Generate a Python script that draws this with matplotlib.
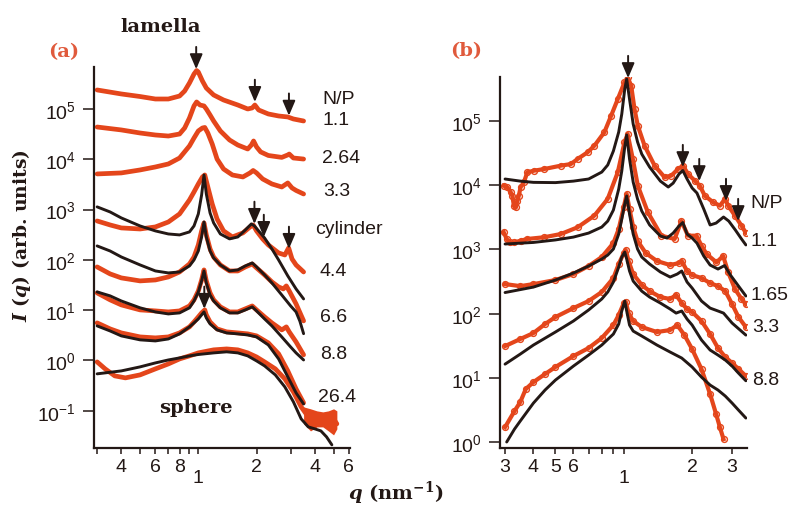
import math
import matplotlib
matplotlib.use('Agg')
import matplotlib.pyplot as plt
from matplotlib.ticker import FixedLocator, FixedFormatter, NullLocator

plt.rcParams['font.family'] = ['Liberation Sans', 'DejaVu Sans']
plt.rcParams['mathtext.fontset'] = 'custom'
plt.rcParams['mathtext.rm'] = 'DejaVu Serif:bold'
plt.rcParams['mathtext.it'] = 'DejaVu Serif:italic:bold'
plt.rcParams['mathtext.bf'] = 'DejaVu Serif:bold'

ORANGE = '#E4461B'
LBL = '#E05A3C'
K = '#231815'

# ---------------- panel (a) data ----------------
q_lam11 = [0.3, 0.4, 0.5, 0.6, 0.7, 0.8, 0.85, 0.9, 0.95, 0.98, 1.0, 1.05, 1.1, 1.2, 1.35, 1.6, 1.8, 1.9, 1.96, 2.05, 2.3, 2.6, 2.9, 3.1, 3.5]
I_lam11 = [2.39e5, 1.99e5, 1.77e5, 1.58e5, 1.58e5, 1.81e5, 2.28e5, 3.29e5, 4.96e5, 5.82e5, 5.44e5, 3.61e5, 2.61e5, 1.90e5, 1.51e5, 1.20e5, 1.0e5, 1.05e5, 1.20e5, 9.55e4, 7.96e4, 7.26e4, 6.94e4, 6.33e4, 5.77e4]

q_lam264 = [0.3, 0.4, 0.5, 0.6, 0.7, 0.8, 0.85, 0.9, 0.95, 0.98, 1.02, 1.07, 1.1, 1.15, 1.2, 1.3, 1.45, 1.6, 1.8, 1.88, 1.93, 2.0, 2.1, 2.3, 2.7, 2.9, 2.95, 3.1, 3.5]
I_lam264 = [4.38e4, 3.83e4, 3.33e4, 3.04e4, 2.90e4, 3.18e4, 4.19e4, 6.62e4, 1.15e5, 1.38e5, 1.20e5, 1.15e5, 1.0e5, 7.6e4, 5.77e4, 3.66e4, 2.42e4, 1.92e4, 1.60e4, 1.92e4, 2.31e4, 1.76e4, 1.40e4, 1.19e4, 1.09e4, 1.22e4, 1.27e4, 1.06e4, 1.01e4]

q_lam33 = [0.3, 0.4, 0.5, 0.6, 0.7, 0.8, 0.9, 0.95, 1.0, 1.05, 1.08, 1.12, 1.18, 1.25, 1.35, 1.5, 1.7, 1.85, 1.92, 2.0, 2.15, 2.4, 2.7, 2.9, 3.05, 3.2, 3.5]
I_lam33 = [5.11e3, 5.35e3, 6.13e3, 7.03e3, 8.07e3, 1.06e4, 1.84e4, 2.65e4, 3.66e4, 4.19e4, 4.29e4, 3.33e4, 2.01e4, 1.01e4, 6.41e3, 4.87e3, 4.45e3, 5.35e3, 5.98e3, 5.35e3, 4.06e3, 3.23e3, 2.81e3, 3.38e3, 2.69e3, 2.40e3, 2.04e3]

q_cyl44 = [0.3, 0.35, 0.4, 0.5, 0.6, 0.7, 0.8, 0.9, 0.95, 1.0, 1.05, 1.08, 1.12, 1.18, 1.25, 1.35, 1.5, 1.7, 1.85, 1.92, 2.0, 2.15, 2.3, 2.6, 2.8, 2.93, 3.05, 3.2, 3.5]
I_cyl44 = [593, 494, 431, 411, 451, 566, 818, 1.55e3, 2.24e3, 3.23e3, 4.45e3, 4.87e3, 2.81e3, 1.29e3, 650, 376, 285, 343, 451, 494, 376, 261, 198, 137, 125, 173, 104, 79.2, 57.4]
qf_cyl44 = [0.3, 0.35, 0.4, 0.5, 0.6, 0.7, 0.8, 0.9, 0.95, 1.0, 1.04, 1.07, 1.1, 1.15, 1.2, 1.3, 1.45, 1.6, 1.75, 1.88, 1.95, 2.05, 2.2, 2.4, 2.6, 2.9, 3.2, 3.5]
If_cyl44 = [1.13e3, 896, 681, 472, 376, 327, 313, 359, 472, 818, 1.95e3, 4.87e3, 2.04e3, 855, 542, 327, 261, 285, 393, 518, 472, 376, 272, 165, 99.5, 47.9, 26.4, 16.7]

q_cyl66 = [0.3, 0.35, 0.4, 0.5, 0.6, 0.7, 0.8, 0.9, 0.95, 1.0, 1.04, 1.07, 1.1, 1.15, 1.2, 1.3, 1.45, 1.6, 1.75, 1.9, 2.0, 2.2, 2.4, 2.6, 2.75, 2.85, 2.95, 3.2, 3.5]
I_cyl66 = [72.3, 52.5, 43.7, 38.1, 39.8, 45.7, 57.4, 82.8, 114, 198, 376, 542, 313, 165, 114, 79.2, 60.1, 60.1, 72.3, 82.8, 69, 50.1, 36.4, 28.9, 26.4, 30.3, 24.1, 13.3, 6.1]
qf_cyl66 = [0.3, 0.35, 0.4, 0.5, 0.6, 0.7, 0.8, 0.9, 0.95, 1.0, 1.04, 1.07, 1.1, 1.15, 1.2, 1.3, 1.45, 1.6, 1.75, 1.9, 2.0, 2.2, 2.4, 2.7, 3.0, 3.2, 3.35, 3.5]
If_cyl66 = [189, 150, 114, 79.2, 60.1, 54.9, 57.4, 75.7, 99.5, 150, 285, 566, 285, 150, 109, 79.2, 60.1, 63, 75.7, 86.7, 72.3, 50.1, 34.8, 20, 12.1, 9.2, 6.0, 3.4]

q_cyl88 = [0.3, 0.35, 0.4, 0.5, 0.6, 0.7, 0.8, 0.9, 0.95, 1.0, 1.04, 1.07, 1.1, 1.15, 1.2, 1.3, 1.45, 1.6, 1.75, 1.9, 2.0, 2.2, 2.4, 2.7, 2.85, 2.95, 3.2, 3.5]
I_cyl88 = [22, 16, 12.7, 10.1, 9.64, 9.2, 9.64, 12.1, 16, 24.1, 39.8, 63, 38.1, 22, 16, 11.6, 9.2, 9.2, 10.6, 12.1, 10.1, 7.33, 5.57, 4.04, 4.64, 3.69, 2.33, 1.29]
qf_cyl88 = [0.3, 0.35, 0.4, 0.5, 0.6, 0.7, 0.8, 0.9, 0.95, 1.0, 1.04, 1.07, 1.1, 1.15, 1.2, 1.3, 1.45, 1.6, 1.75, 1.9, 2.0, 2.2, 2.4, 2.7, 3.0, 3.2, 3.5]
If_cyl88 = [23, 19.2, 15.2, 11.1, 9.2, 8.4, 8.8, 11.1, 15.2, 23, 38.1, 60.1, 34.8, 20, 15.2, 11.1, 8.8, 8.8, 10.1, 11.6, 9.64, 6.68, 4.85, 2.93, 1.85, 1.41, 1.02]

q_mix = [0.3, 0.35, 0.4, 0.5, 0.6, 0.7, 0.8, 0.9, 0.95, 1.0, 1.04, 1.08, 1.1, 1.15, 1.25, 1.4, 1.6, 1.8, 2.0, 2.3, 2.6, 2.9, 3.2, 3.5]
I_mix = [5.57, 4.23, 3.52, 2.93, 2.8, 2.93, 3.52, 4.64, 5.82, 7.33, 8.8, 10.1, 8.04, 5.82, 4.23, 3.69, 3.52, 3.37, 3.07, 2.23, 1.35, 0.618, 0.271, 0.143]
qf_mix = [0.3, 0.35, 0.4, 0.5, 0.6, 0.7, 0.8, 0.9, 0.95, 1.0, 1.04, 1.07, 1.1, 1.15, 1.25, 1.4, 1.6, 1.8, 2.0, 2.3, 2.6, 2.9, 3.2, 3.5]
If_mix = [4.85, 3.85, 3.07, 2.56, 2.44, 2.67, 3.37, 4.64, 5.57, 6.68, 8.04, 9.2, 7.0, 5.32, 4.04, 3.52, 3.37, 3.21, 2.93, 2.03, 1.07, 0.47, 0.226, 0.136]

q_sph264 = [0.3, 0.33, 0.37, 0.42, 0.5, 0.6, 0.7, 0.8, 0.9, 1.0, 1.2, 1.4, 1.6, 1.8, 2.0, 2.2, 2.5, 2.8, 3.1, 3.4, 3.7, 4.0, 4.3, 4.6, 5.0, 5.2]
I_sph264 = [0.933, 0.678, 0.492, 0.449, 0.515, 0.678, 0.851, 1.07, 1.23, 1.41, 1.62, 1.69, 1.62, 1.41, 1.17, 0.933, 0.678, 0.429, 0.237, 0.119, 0.0753, 0.0656, 0.0687, 0.0598, 0.0687, 0.0547]
q_sph_tail = [3.5, 3.8, 4.1, 4.4, 4.7, 5.0, 5.2]
I_sph_tail_hi = [0.119, 0.109, 0.0991, 0.0946, 0.0991, 0.109, 0.0991]
I_sph_tail_lo = [0.0547, 0.0396, 0.0476, 0.0476, 0.0396, 0.0330, 0.0435]
qf_sph264 = [0.3, 0.4, 0.5, 0.6, 0.7, 0.8, 0.9, 1.0, 1.2, 1.4, 1.6, 1.8, 2.0, 2.2, 2.5, 2.8, 3.1, 3.4, 3.7, 4.0, 4.3, 4.6, 4.9]
If_sph264 = [0.540, 0.618, 0.743, 0.891, 1.02, 1.12, 1.23, 1.31, 1.41, 1.48, 1.41, 1.23, 0.977, 0.778, 0.515, 0.297, 0.150, 0.0687, 0.0476, 0.0435, 0.0396, 0.0301, 0.0209]

# ---------------- panel (b) data ----------------
q_b11 = [0.296, 0.307, 0.318, 0.323, 0.328, 0.334, 0.34, 0.345, 0.351, 0.363, 0.376, 0.402, 0.445, 0.528, 0.585, 0.626, 0.693, 0.742, 0.821, 0.88, 0.941, 1.007, 1.04, 1.078, 1.115, 1.153, 1.235, 1.367, 1.513, 1.62, 1.733, 1.824, 1.918, 2.055, 2.162, 2.274, 2.478, 2.651, 2.79, 2.885, 3.088, 3.30, 3.45]
I_b11 = [9.75e3, 9.2e3, 7.69e3, 6.82e3, 4.77e3, 4.5e3, 5.7e3, 6.82e3, 9.2e3, 1.10e4, 1.58e4, 1.67e4, 1.77e4, 2.0e4, 2.12e4, 2.54e4, 3.23e4, 4.08e4, 6.6e4, 1.20e5, 2.17e5, 3.95e5, 4.73e5, 3.5e5, 1.52e5, 8.36e4, 4.08e4, 2.0e4, 1.32e4, 1.40e4, 1.77e4, 2.0e4, 1.48e4, 1.17e4, 9.75e3, 6.82e3, 5.38e3, 4.77e3, 6.05e3, 4.77e3, 3.34e3, 2.33e3, 1.8e3]
qf_b11 = [0.3, 0.35, 0.4, 0.5, 0.6, 0.7, 0.8, 0.85, 0.9, 0.95, 0.98, 1.01, 1.03, 1.06, 1.1, 1.15, 1.2, 1.3, 1.45, 1.57, 1.65, 1.75, 1.82, 1.9, 2.0, 2.1, 2.25, 2.4, 2.55, 2.75, 2.9, 3.1, 3.3, 3.45]
If_b11 = [1.24e4, 1.15e4, 1.10e4, 1.09e4, 1.15e4, 1.24e4, 1.59e4, 2.05e4, 3.38e4, 6.67e4, 1.27e5, 3.11e5, 4.45e5, 2.17e5, 8.89e4, 4.67e4, 3.03e4, 1.90e4, 1.15e4, 9.31e3, 1.07e4, 1.48e4, 1.68e4, 1.24e4, 8.98e3, 7.51e3, 4.24e3, 2.39e3, 2.56e3, 3.18e3, 2.75e3, 2.00e3, 1.45e3, 1.17e3]

q_b165 = [0.296, 0.305, 0.315, 0.328, 0.351, 0.376, 0.445, 0.528, 0.626, 0.742, 0.849, 0.941, 1.007, 1.04, 1.096, 1.153, 1.277, 1.464, 1.675, 1.794, 1.918, 2.091, 2.20, 2.316, 2.56, 2.74, 2.885, 3.088, 3.30, 3.45]
I_b165 = [1.84e3, 1.45e3, 1.28e3, 1.28e3, 1.36e3, 1.45e3, 1.54e3, 1.73e3, 2.20e3, 3.34e3, 6.05e3, 1.58e4, 4.61e4, 6.21e4, 2.54e4, 9.75e3, 3.76e3, 1.63e3, 1.45e3, 2.75e3, 1.63e3, 1.63e3, 1.14e3, 845, 628, 787, 438, 242, 169, 140]
qf_b165 = [0.3, 0.4, 0.5, 0.6, 0.7, 0.8, 0.85, 0.9, 0.95, 0.98, 1.01, 1.03, 1.06, 1.1, 1.15, 1.2, 1.3, 1.45, 1.55, 1.65, 1.75, 1.82, 1.9, 2.0, 2.1, 2.25, 2.4, 2.6, 2.78, 2.95, 3.2, 3.45]
If_b165 = [1.21e3, 1.28e3, 1.40e3, 1.55e3, 1.79e3, 2.22e3, 2.75e3, 4.08e3, 8.67e3, 1.65e4, 3.90e4, 6.0e4, 2.54e4, 1.11e4, 6.05e3, 3.94e3, 2.39e3, 1.61e3, 1.50e3, 1.79e3, 2.30e3, 2.61e3, 1.73e3, 1.50e3, 1.25e3, 787, 570, 494, 560, 398, 269, 188]

q_b33 = [0.3, 0.35, 0.4, 0.5, 0.6, 0.7, 0.8, 0.9, 0.95, 1.0, 1.03, 1.06, 1.1, 1.15, 1.25, 1.4, 1.6, 1.75, 1.8, 1.9, 2.0, 2.2, 2.4, 2.6, 2.8, 3.0, 3.2, 3.45]
I_b33 = [288, 268, 288, 333, 413, 550, 759, 1.25e3, 2.07e3, 4.55e3, 7.24e3, 4.24e3, 2.22e3, 1.35e3, 875, 658, 570, 612, 658, 460, 398, 358, 299, 268, 224, 141, 88.5, 61.8]
qf_b33 = [0.3, 0.4, 0.5, 0.6, 0.7, 0.8, 0.85, 0.9, 0.95, 0.98, 1.01, 1.03, 1.06, 1.1, 1.15, 1.2, 1.3, 1.45, 1.6, 1.72, 1.8, 1.9, 2.0, 2.2, 2.4, 2.6, 2.75, 3.0, 3.45]
If_b33 = [213, 259, 333, 428, 550, 706, 815, 1.01e3, 1.73e3, 2.96e3, 5.07e3, 6.75e3, 3.54e3, 1.73e3, 1.01e3, 759, 590, 444, 371, 413, 460, 310, 250, 157, 122, 110, 102, 71.4, 46.4]

q_b88 = [0.3, 0.35, 0.4, 0.45, 0.5, 0.6, 0.7, 0.8, 0.9, 0.95, 1.0, 1.02, 1.05, 1.1, 1.2, 1.3, 1.45, 1.6, 1.7, 1.8, 1.9, 2.0, 2.2, 2.4, 2.6, 2.8, 3.0, 3.2, 3.45]
I_b88 = [31.3, 40.3, 49.9, 68.9, 88.5, 122, 157, 217, 358, 592, 875, 975, 658, 413, 279, 224, 181, 169, 195, 146, 118, 106, 76.8, 48.2, 29.2, 21.1, 17.1, 13.8, 10.7]
qf_b88 = [0.3, 0.35, 0.4, 0.5, 0.6, 0.7, 0.8, 0.85, 0.9, 0.95, 0.98, 1.01, 1.03, 1.06, 1.1, 1.2, 1.3, 1.45, 1.6, 1.7, 1.8, 1.9, 2.0, 2.2, 2.4, 2.6, 2.8, 3.0, 3.2, 3.45]
If_b88 = [16.4, 23.5, 32.5, 51.8, 76.8, 114, 169, 217, 310, 531, 759, 908, 706, 460, 321, 224, 181, 146, 118, 102, 110, 82.4, 66.5, 38.9, 27.2, 22.7, 19, 15.3, 11.9, 9.04]

q_b5 = [0.3, 0.33, 0.35, 0.37, 0.4, 0.45, 0.5, 0.6, 0.7, 0.8, 0.9, 0.95, 1.0, 1.02, 1.05, 1.1, 1.2, 1.4, 1.6, 1.72, 1.85, 2.0, 2.2, 2.4, 2.55, 2.65, 2.75]
I_b5 = [1.72, 3.05, 4.22, 6.71, 8.63, 11.5, 14.8, 21.9, 29.2, 41.8, 66.5, 95.1, 146, 151, 102, 76.8, 61.9, 51.8, 55.6, 66.5, 46.4, 28.1, 13.7, 5.62, 2.75, 1.72, 1.12]
qf_b5 = [0.305, 0.33, 0.35, 0.4, 0.45, 0.5, 0.6, 0.7, 0.8, 0.9, 0.95, 0.98, 1.01, 1.03, 1.06, 1.1, 1.2, 1.4, 1.6, 1.8, 2.0, 2.2, 2.4, 2.6, 2.8, 3.0, 3.2, 3.45]
If_b5 = [1.01, 1.60, 2.14, 4.07, 6.49, 9.27, 15.3, 22.7, 32.5, 48.2, 68.9, 110, 157, 110, 66.5, 53.6, 44.9, 32.5, 25.3, 20.4, 14.8, 10.3, 7.76, 6.49, 5.23, 4.07, 3.17, 2.38]

# arrows (tip positions)
arr_a_q = [0.975, 1.96, 2.94, 1.95, 2.18, 2.94, 1.074]
arr_a_I = [6.2e5, 1.38e5, 7.36e4, 518, 285, 165, 10.6]
arr_b_q = [1.045, 1.82, 2.15, 2.82, 3.19]
arr_b_I = [4.6e5, 1.9e4, 1.15e4, 5.64e3, 2.75e3]

# ticks
y_ticks_a = [1e-1, 1e0, 1e1, 1e2, 1e3, 1e4, 1e5]
y_ticks_b = [1e0, 1e1, 1e2, 1e3, 1e4, 1e5]
x_ticks_a = [0.3, 0.4, 0.5, 0.6, 0.7, 0.8, 0.9, 1, 2, 3, 4, 5, 6]
x_lbls_a = ['', '4', '', '6', '', '8', '', '', '2', '', '4', '', '6']
x_ticks_b = [0.3, 0.4, 0.5, 0.6, 0.7, 0.8, 0.9, 1, 2, 3]
x_lbls_b = ['3', '4', '5', '6', '', '', '', '', '2', '3']

W, H = 791, 506
fig = plt.figure(figsize=(W / 100, H / 100), dpi=100)
axA = fig.add_axes([94 / W, 1 - 449 / H, 256 / W, 381 / H])
axB = fig.add_axes([500 / W, 1 - 449 / H, 247.3 / W, (449 - 78.3) / H])


def style(ax, xt, xl, yt, xlim, ylim):
    ax.set_xscale('log')
    ax.set_yscale('log')
    ax.set_xlim(*xlim)
    ax.set_ylim(*ylim)
    for s in ['top', 'right']:
        ax.spines[s].set_visible(False)
    for s in ['left', 'bottom']:
        ax.spines[s].set_linewidth(1.6)
        ax.spines[s].set_color(K)
    ax.xaxis.set_major_locator(FixedLocator(xt))
    ax.xaxis.set_major_formatter(FixedFormatter(xl))
    ax.xaxis.set_minor_locator(NullLocator())
    ax.yaxis.set_major_locator(FixedLocator(yt))
    ax.yaxis.set_major_formatter(FixedFormatter(
        [r'$\mathdefault{10^{%d}}$' % round(math.log10(v)) for v in yt]))
    ax.yaxis.set_minor_locator(NullLocator())
    ax.tick_params(axis='x', direction='out', length=4.5, width=1.1, color=K,
                   labelsize=14, pad=3, labelcolor=K)
    ax.tick_params(axis='y', direction='out', length=8, width=1.1, color=K,
                   labelsize=14, pad=5, labelcolor=K)
    ax.patch.set_alpha(0)
    ax.annotate('1', xy=(1, 0), xycoords=('data', 'axes fraction'),
                xytext=(0, -15), textcoords='offset points', ha='center', va='top',
                fontsize=14, color=K)


style(axA, x_ticks_a, x_lbls_a, y_ticks_a, (0.289, 6.08), (0.0181, 6.84e5))
style(axB, x_ticks_b, x_lbls_b, y_ticks_b, (0.285, 3.50), (0.815, 4.73e5))

# panel (a) curves
for q, I in [(q_lam11, I_lam11), (q_lam264, I_lam264), (q_lam33, I_lam33),
             (q_cyl44, I_cyl44), (q_cyl66, I_cyl66), (q_cyl88, I_cyl88),
             (q_mix, I_mix), (q_sph264, I_sph264)]:
    axA.plot(q, I, color=ORANGE, lw=3.4, solid_capstyle='round', solid_joinstyle='round')
axA.fill_between(q_sph_tail, I_sph_tail_lo, I_sph_tail_hi, color=ORANGE, lw=0)
for q, I in [(qf_cyl44, If_cyl44), (qf_cyl66, If_cyl66), (qf_cyl88, If_cyl88),
             (qf_mix, If_mix), (qf_sph264, If_sph264)]:
    axA.plot(q, I, color=K, lw=2.1, solid_capstyle='round', solid_joinstyle='round')

# panel (b) curves
for q, I in [(q_b11, I_b11), (q_b165, I_b165), (q_b33, I_b33), (q_b88, I_b88), (q_b5, I_b5)]:
    axB.plot(q, I, color=ORANGE, lw=3.0, solid_joinstyle='round')
    axB.plot(q, I, ls='none', marker='o', ms=4.2, mfc='none', mec=ORANGE, mew=1.0)
for q, I in [(qf_b11, If_b11), (qf_b165, If_b165), (qf_b33, If_b33), (qf_b88, If_b88), (qf_b5, If_b5)]:
    axB.plot(q, I, color=K, lw=2.1, solid_capstyle='round', solid_joinstyle='round')


def arrows(ax, qs, Is):
    for q, I in zip(qs, Is):
        ax.annotate('', xy=(q, I), xytext=(0, 16), textcoords='offset points',
                    annotation_clip=False,
                    arrowprops=dict(arrowstyle='-|>,head_length=0.75,head_width=0.32',
                                    color=K, lw=1.4, mutation_scale=12,
                                    shrinkA=0, shrinkB=0))


arrows(axA, arr_a_q, arr_a_I)
arrows(axB, arr_b_q, arr_b_I)


def ftext(x, y, s, **kw):
    fig.text(x / W, 1 - y / H, s, **kw)


serif = dict(family='DejaVu Serif', weight='bold')
ftext(63.5, 52, '(a)', ha='center', va='center', fontsize=14, color=LBL, **serif)
ftext(466, 51, '(b)', ha='center', va='center', fontsize=14, color=LBL, **serif)
ftext(161, 27, 'lamella', ha='center', va='center', fontsize=14, color=K, **serif)
ftext(196, 408, 'sphere', ha='center', va='center', fontsize=14, color=K, **serif)
ftext(22, 236, r'$I\ (q)$ (arb. units)', ha='center', va='center', rotation=90,
      fontsize=13.5, color=K, **serif)
ftext(396, 493, r'$q$ (nm$^{\mathbf{-1}}$)', ha='center', va='center', fontsize=14,
      color=K, **serif)

sans = dict(fontsize=14, color=K, va='center', ha='left')
for x, y, s in [(322, 100, 'N/P'), (322, 121, '1.1'), (322, 159, '2.64'), (323, 192, '3.3'),
                (315, 230, 'cylinder'), (320, 272, '4.4'), (320, 317, '6.6'),
                (320, 355, '8.8'), (318, 397, '26.4'),
                (750, 203, 'N/P'), (750, 241, '1.1'), (751, 296, '1.65'),
                (752, 328, '3.3'), (752, 381, '8.8')]:
    ftext(x, y, s, **sans)

fig.savefig('out.png', dpi=100)
